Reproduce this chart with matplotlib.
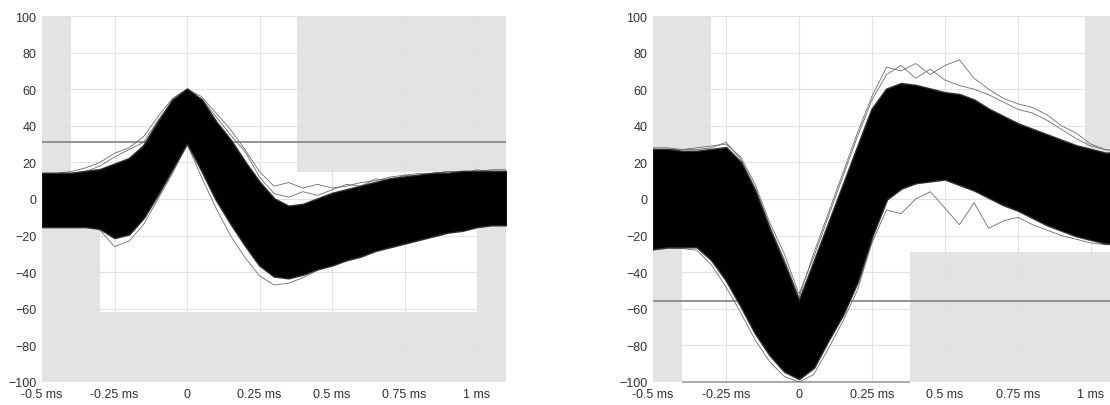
import numpy as np
import matplotlib.pyplot as plt

plt.rcParams['font.family'] = ['Liberation Sans', 'DejaVu Sans']

# time grid (ms), 0.05 ms steps from -0.5 to 1.1
t = [-0.5, -0.45, -0.4, -0.35, -0.3, -0.25, -0.2, -0.15, -0.1, -0.05, 0.0,
     0.05, 0.1, 0.15, 0.2, 0.25, 0.3, 0.35, 0.4, 0.45, 0.5, 0.55, 0.6, 0.65,
     0.7, 0.75, 0.8, 0.85, 0.9, 0.95, 1.0, 1.05, 1.1]

# left unit: envelope of the overlaid waveforms
left_upper = [14, 14, 14, 15, 16, 19, 22, 29, 42, 54, 60, 54, 42, 32, 20, 9, 0,
              -4, -3, 0, 3, 5, 7, 9, 11, 12, 13, 14, 14, 15, 15, 15, 15]
left_lower = [-15, -15, -15, -15, -16, -21, -19, -10, 3, 17, 31, 16, 0, -13,
              -25, -36, -42, -43, -41, -38, -36, -33, -31, -28, -26, -24, -22,
              -20, -18, -17, -15, -14, -14]
left_out1 = [-12, -13, -14, -14, -17, -26, -23, -14, 0, 14, 30, 12, -5, -20,
             -32, -42, -47, -46, -43, -39, -36, -34, -32, -28, -26, -24, -22,
             -20, -18, -16, -15, -14, -13]
left_out2 = [13, 14, 15, 17, 20, 25, 28, 34, 45, 55, 60, 56, 47, 38, 27, 15, 7,
             9, 6, 8, 6, 7, 9, 10, 12, 13, 14, 14, 15, 15, 15, 16, 16]
left_out3 = [12, 13, 13, 15, 18, 23, 27, 31, 43, 53, 58, 55, 45, 35, 26, 12, 3,
             1, 4, 2, 5, 8, 7, 11, 10, 13, 12, 14, 15, 14, 16, 15, 15]

# right unit
right_upper = [27, 27, 26, 26, 27, 28, 20, 4, -17, -36, -56, -35, -14, 7, 28,
               49, 60, 63, 62, 60, 58, 57, 54, 49, 45, 41, 38, 35, 32, 29, 27,
               25, 25]
right_lower = [-27, -26, -26, -26, -33, -44, -58, -73, -85, -94, -98, -92, -77,
               -63, -45, -20, 0, 6, 9, 10, 11, 8, 5, 1, -3, -6, -10, -14, -17,
               -20, -22, -24, -24]
right_out1 = [28, 28, 27, 27, 28, 31, 22, 6, -15, -33, -54, -30, -8, 14, 36,
              56, 72, 70, 74, 68, 73, 76, 66, 60, 55, 52, 50, 46, 40, 36, 30,
              27, 26]
right_out2 = [-28, -27, -27, -28, -36, -48, -62, -77, -89, -97, -100, -96, -82,
              -67, -50, -24, -6, -8, 0, 4, -5, -14, -2, -16, -12, -10, -14, -17,
              -20, -22, -24, -25, -25]
right_out3 = [26, 27, 27, 28, 29, 30, 23, 8, -13, -30, -52, -32, -10, 12, 34,
              54, 68, 73, 66, 71, 65, 62, 60, 57, 53, 49, 47, 43, 38, 33, 29,
              27, 26]

# acceptance masks (step bounds) and thresholds
left_hi_edges = [-0.5, -0.4, 0.38, 1.1]
left_hi_vals = [15, 100, 15]
left_lo_edges = [-0.5, -0.3, 1.0, 1.1]
left_lo_vals = [-15, -62, -15]
left_thresh = 31

right_hi_edges = [-0.5, -0.3, 0.98, 1.1]
right_hi_vals = [27, 100, 25]
right_lo_edges = [-0.5, -0.4, 0.38, 1.1]
right_lo_vals = [-27, -100, -29]
right_thresh = -56

xticks = [-0.5, -0.25, 0, 0.25, 0.5, 0.75, 1.0]
xticklabels = ['-0.5 ms', '-0.25 ms', '0', '0.25 ms', '0.5 ms', '0.75 ms', '1 ms']
yticks = [100, 80, 60, 40, 20, 0, -20, -40, -60, -80, -100]

mask_col = '#e3e3e3'


def draw_panel(ax, upper, lower, outs, hi_e, hi_v, lo_e, lo_v, thresh):
    ax.set_xlim(-0.5, 1.1)
    ax.set_ylim(-100, 100)
    ax.grid(True, color='#e2e2e2', lw=0.8, zorder=0)
    # masks
    for i in range(len(hi_v)):
        ax.fill_between([hi_e[i], hi_e[i + 1]], hi_v[i], 100, color=mask_col,
                        lw=0, zorder=1)
    for i in range(len(lo_v)):
        ax.fill_between([lo_e[i], lo_e[i + 1]], -100, lo_v[i], color=mask_col,
                        lw=0, zorder=1)
        if lo_v[i] <= -100:
            ax.hlines(-100, lo_e[i], lo_e[i + 1], color='#9a9a9a', lw=1.2,
                      zorder=2, clip_on=False)
    ax.axhline(thresh, color='#8a8a8a', lw=1.3, zorder=2)
    # waveforms
    for o in outs:
        ax.plot(t, o, color='#6e6e6e', lw=0.6, zorder=3)
    ax.fill_between(t, lower, upper, color='#303030', lw=2.0, zorder=4)
    ax.fill_between(t, lower, upper, color='black', lw=0, zorder=5)
    ax.set_xticks(xticks)
    ax.set_xticklabels(xticklabels)
    ax.set_yticks(yticks)
    ax.tick_params(length=0, labelsize=9, colors='#333333', pad=4)
    for s in ax.spines.values():
        s.set_visible(False)


fig = plt.figure(figsize=(11.1, 4.06), dpi=100)
ax1 = fig.add_axes([42 / 1110, 23 / 406, 464 / 1110, 366 / 406])
ax2 = fig.add_axes([653 / 1110, 23 / 406, 467 / 1110, 366 / 406])

draw_panel(ax1, left_upper, left_lower, [left_out1, left_out2, left_out3],
           left_hi_edges, left_hi_vals, left_lo_edges, left_lo_vals, left_thresh)
draw_panel(ax2, right_upper, right_lower, [right_out1, right_out2, right_out3],
           right_hi_edges, right_hi_vals, right_lo_edges, right_lo_vals,
           right_thresh)

fig.savefig('out.png', dpi=100)
